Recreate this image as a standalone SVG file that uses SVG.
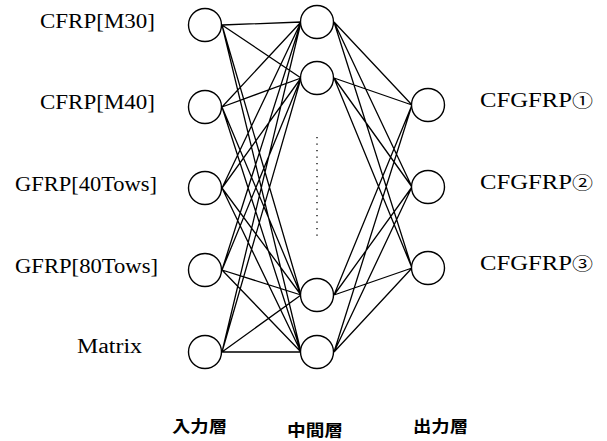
<svg xmlns="http://www.w3.org/2000/svg" width="607" height="441" viewBox="0 0 607 441">
<style>
.n{fill:#fff;stroke:#000;stroke-width:1.4}
.e{stroke:#000;stroke-width:1.3;fill:none}
.lbl{font-family:"Liberation Serif","Noto Sans CJK JP",serif;font-size:20px;fill:#000}
.cd{font-size:17px}
.jp{font-family:"Noto Sans CJK JP",sans-serif;font-size:16px;font-weight:bold;fill:#000}
</style>
<rect width="607" height="441" fill="#fff"/>
<g id="connectors">
<path class="e" d="M222,25L301,22M222,25L301,78M222,25L301,295M222,25L301,352
M222,107L301,22M222,107L301,78M222,107L301,295M222,107L301,352
M222,188L301,22M222,188L301,78M222,188L301,295M222,188L301,352
M222,270L301,22M222,270L301,78M222,270L301,295M222,270L301,352
M222,352L301,22M222,352L301,78M222,352L301,295M222,352L301,352"/>
<path class="e" d="M334,22L412,105M334,22L412,187M334,22L412,268
M334,78L412,105M334,78L412,187M334,78L412,268
M334,295L412,105M334,295L412,187M334,295L412,268
M334,352L412,105M334,352L412,187M334,352L412,268"/>
<line x1="317" y1="137" x2="317" y2="240" stroke="#000" stroke-width="1.3" stroke-dasharray="1.3,5.2"/>
</g>
<g id="in1"><circle class="n" cx="205" cy="25" r="16.5"/><text class="lbl" x="155" y="28" text-anchor="end" textLength="115" lengthAdjust="spacingAndGlyphs">CFRP[M30]</text></g>
<g id="in2"><circle class="n" cx="205" cy="107" r="16.5"/><text class="lbl" x="155" y="109" text-anchor="end" textLength="115" lengthAdjust="spacingAndGlyphs">CFRP[M40]</text></g>
<g id="in3"><circle class="n" cx="205" cy="188" r="16.5"/><text class="lbl" x="157" y="191" text-anchor="end" textLength="142" lengthAdjust="spacingAndGlyphs">GFRP[40Tows]</text></g>
<g id="in4"><circle class="n" cx="205" cy="270" r="16.5"/><text class="lbl" x="158" y="273" text-anchor="end" textLength="143" lengthAdjust="spacingAndGlyphs">GFRP[80Tows]</text></g>
<g id="in5"><circle class="n" cx="205" cy="352" r="16.5"/><text class="lbl" x="142" y="353" text-anchor="end" textLength="65" lengthAdjust="spacingAndGlyphs">Matrix</text></g>
<g id="h1"><circle class="n" cx="317" cy="22" r="16.5"/></g>
<g id="h2"><circle class="n" cx="317" cy="78" r="16.5"/></g>
<g id="h3"><circle class="n" cx="317" cy="295" r="16.5"/></g>
<g id="h4"><circle class="n" cx="317" cy="352" r="16.5"/></g>
<g id="o1"><circle class="n" cx="428" cy="105" r="16.5"/><text class="lbl" x="480" y="107" textLength="113" lengthAdjust="spacingAndGlyphs">CFGFRP<tspan class="cd">①</tspan></text></g>
<g id="o2"><circle class="n" cx="428" cy="187" r="16.5"/><text class="lbl" x="480" y="189" textLength="113" lengthAdjust="spacingAndGlyphs">CFGFRP<tspan class="cd">②</tspan></text></g>
<g id="o3"><circle class="n" cx="428" cy="268" r="16.5"/><text class="lbl" x="480" y="270" textLength="113" lengthAdjust="spacingAndGlyphs">CFGFRP<tspan class="cd">③</tspan></text></g>
<g id="layer-labels">
<text class="jp" x="172" y="432" textLength="55" lengthAdjust="spacingAndGlyphs">入力層</text>
<text class="jp" x="287" y="436" textLength="56" lengthAdjust="spacingAndGlyphs">中間層</text>
<text class="jp" x="413" y="432" textLength="55" lengthAdjust="spacingAndGlyphs">出力層</text>
</g>
</svg>
